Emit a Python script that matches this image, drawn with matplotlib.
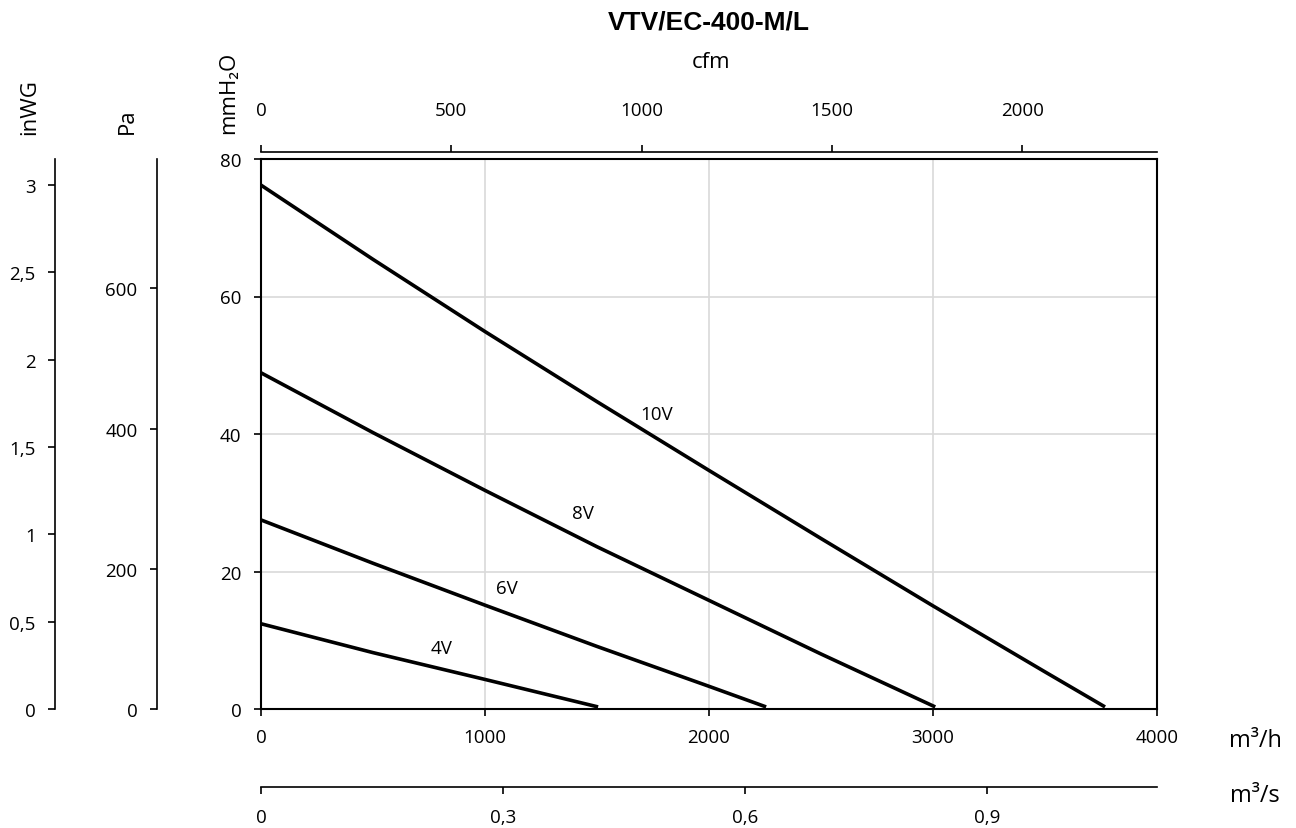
import matplotlib
matplotlib.use("Agg")
import matplotlib.pyplot as plt
from matplotlib.ticker import FuncFormatter, FixedLocator

plt.rcParams["font.family"] = ["Open Sans", "DejaVu Sans"]

# fan curves, airflow in m3/h vs pressure in mmH2O
flow_10v = [0, 500, 1000, 1500, 2000, 2500, 3000, 3500, 3768]
pres_10v = [76.2, 65.4, 54.9, 44.7, 34.7, 24.8, 15.0, 5.4, 0.3]
flow_8v = [0, 500, 1000, 1500, 2000, 2500, 3010]
pres_8v = [48.9, 40.2, 31.8, 23.6, 15.8, 8.0, 0.3]
flow_6v = [0, 500, 1000, 1500, 2000, 2255]
pres_6v = [27.5, 21.2, 15.1, 9.1, 3.3, 0.3]
flow_4v = [0, 500, 1000, 1505]
pres_4v = [12.4, 8.2, 4.3, 0.3]

curve_names = ["10V", "8V", "6V", "4V"]
label_x = [1766, 1437, 1097, 807]
label_y = [42.9, 28.5, 17.6, 8.9]

W, H = 1296, 829


def fx(px):
    return px / W


def fy(py):
    return 1 - py / H


def comma(v, pos):
    return f"{v:g}".replace(".", ",")


fig = plt.figure(figsize=(W / 100, H / 100), dpi=100)
ax = fig.add_axes([fx(261), fy(710), fx(1157) - fx(261), fy(160) - fy(710)])

for fl, pr in [(flow_10v, pres_10v), (flow_8v, pres_8v), (flow_6v, pres_6v), (flow_4v, pres_4v)]:
    ax.plot(fl, pr, color="black", lw=2.6, solid_capstyle="butt", solid_joinstyle="round", zorder=3)

for name, lx, ly in zip(curve_names, label_x, label_y):
    ax.text(lx, ly, name, fontsize=13.5, ha="center", va="center")

ax.set_xlim(0, 4000)
ax.set_ylim(0, 80)
ax.set_xticks([0, 1000, 2000, 3000, 4000])
ax.set_yticks([0, 20, 40, 60, 80])
ax.grid(True, color="#d9d9d9", lw=1.2)
ax.set_axisbelow(True)
for s in ax.spines.values():
    s.set_linewidth(1.5)
ax.tick_params(length=5, width=1.2, pad=9, labelsize=13.5)

# cfm on top
cfm = ax.secondary_xaxis(1 + 7 / 550, functions=(lambda x: x / 1.699, lambda x: x * 1.699))
cfm.set_xticks([0, 500, 1000, 1500, 2000])
cfm.tick_params(length=5, width=1.2, pad=19, labelsize=13.5)
cfm.spines["top"].set_linewidth(1.2)

# m3/s below
ms = ax.secondary_xaxis(-78 / 550, functions=(lambda x: x / 3600, lambda x: x * 3600))
ms.set_xticks([0, 0.3, 0.6, 0.9])
ms.xaxis.set_major_formatter(FuncFormatter(comma))
ms.xaxis.set_minor_locator(FixedLocator([0]))
ms.tick_params(which="major", length=5, width=1.2, pad=10, labelsize=13.5)
ms.tick_params(which="minor", direction="in", length=5, width=1.2)
ms.spines["bottom"].set_linewidth(1.2)

# Pa and inWG on the left
pa = ax.secondary_yaxis(-(261 - 157) / 896, functions=(lambda y: y * 9.80665, lambda y: y / 9.80665))
pa.set_yticks([0, 200, 400, 600])
pa.tick_params(length=5, width=1.2, pad=9, labelsize=13.5)
pa.spines["left"].set_linewidth(1.2)

inwg = ax.secondary_yaxis(-(261 - 55) / 896, functions=(lambda y: y / 25.4, lambda y: y * 25.4))
inwg.set_yticks([0, 0.5, 1, 1.5, 2, 2.5, 3])
inwg.yaxis.set_major_formatter(FuncFormatter(comma))
inwg.tick_params(length=5, width=1.2, pad=9, labelsize=13.5)
inwg.spines["left"].set_linewidth(1.2)

# unit labels
fig.text(fx(30), fy(135), "inWG", rotation=90, fontsize=16, ha="center", va="bottom")
fig.text(fx(127), fy(134), "Pa", rotation=90, fontsize=16, ha="center", va="bottom")
fig.text(fx(229), fy(134), "mmH\u2082O", rotation=90, fontsize=16, ha="center", va="bottom")
fig.text(fx(711), fy(63), "cfm", fontsize=16, ha="center", va="center")
fig.text(fx(1255), fy(741), "m\u00b3/h", fontsize=17, ha="center", va="center")
fig.text(fx(1255), fy(796), "m\u00b3/s", fontsize=17, ha="center", va="center")

fig.text(fx(709), fy(23), "VTV/EC-400-M/L", family="Liberation Sans", weight="bold",
         fontsize=19, ha="center", va="center")

fig.savefig("out.png", dpi=100)
